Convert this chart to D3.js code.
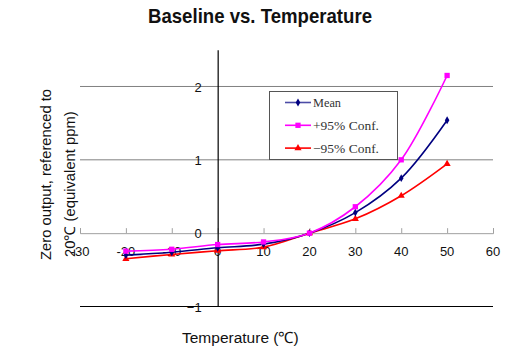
<!DOCTYPE html>
<html><head><meta charset="utf-8">
<script src="https://cdn.jsdelivr.net/npm/d3@7"></script>
<style>body{margin:0;background:#fff}svg{display:block}</style>
</head><body>
<svg id="c" width="532" height="351"></svg>
<script>
const temps = [-20, -10, 0, 10, 20, 30, 40, 50];
const meanVals = [-0.30, -0.26, -0.20, -0.15, 0, 0.28, 0.75, 1.54];
const upperVals = [-0.245, -0.22, -0.155, -0.12, 0, 0.36, 1.0, 2.15];
const lowerVals = [-0.35, -0.29, -0.24, -0.19, 0, 0.195, 0.51, 0.945];
const seriesNames = ["Mean", "+95% Conf.", "\u221295% Conf."];
const xTicks = [-30, -20, -10, 0, 10, 20, 30, 40, 50, 60];
const yTicks = [-1, 0, 1, 2];

const svg = d3.select("#c");
const x = d3.scaleLinear().domain([-30, 60]).range([80, 493]);
const y = d3.scaleLinear().domain([-1, 2.5]).range([306.5, 49.8]);

// title
svg.append("text").attr("x", 260).attr("y", 23).attr("text-anchor", "middle")
  .attr("font-family", "Liberation Sans, Arial, sans-serif").attr("font-weight", "bold")
  .attr("font-size", 21).attr("textLength", 224).attr("lengthAdjust", "spacingAndGlyphs")
  .attr("fill", "#111").text("Baseline vs. Temperature");

// gridlines
svg.append("g").selectAll("line").data(yTicks.filter(d => d > 0)).join("line")
  .attr("x1", x(-30)).attr("x2", x(60)).attr("y1", d => y(d)).attr("y2", d => y(d))
  .attr("stroke", "#808080").attr("stroke-width", 1);
// bottom border line at -1
svg.append("line").attr("x1", x(-30)).attr("x2", x(60)).attr("y1", y(-1)).attr("y2", y(-1))
  .attr("stroke", "#000").attr("stroke-width", 1);

// x axis at y=0
const xAxis = svg.append("g").attr("transform", `translate(0,${y(0)})`)
  .call(d3.axisTop(x).tickValues(xTicks).tickSize(5).tickFormat(""));
xAxis.select(".domain").attr("stroke", "#a0a0a0");
xAxis.selectAll(".tick line").attr("stroke", "#a0a0a0");
svg.append("g").selectAll("text").data(xTicks).join("text")
  .attr("x", d => x(d)).attr("y", y(0) + 23).attr("text-anchor", "middle")
  .attr("font-family", "Liberation Sans, Arial, sans-serif").attr("font-size", 13)
  .attr("fill", "#111").text(d => d);

// y axis at x=0
const yAxis = svg.append("g").attr("transform", `translate(${x(0)},0)`)
  .call(d3.axisLeft(y).tickValues(yTicks).tickSize(0).tickPadding(16).tickFormat(d3.format("d")));
yAxis.select(".domain").attr("stroke", "#000").attr("stroke-width", 1.2);
yAxis.selectAll("text").attr("font-family", "Liberation Sans, Arial, sans-serif")
  .attr("font-size", 13).attr("fill", "#111").attr("dy", "0.35em");

// series
const series = [
  {vals: meanVals, color: "#000080", shape: d3.symbolDiamond, size: 18},
  {vals: upperVals, color: "#FF00FF", shape: d3.symbolSquare, size: 28},
  {vals: lowerVals, color: "#FF0000", shape: d3.symbolTriangle, size: 22}
];
const line = d3.line().x((d, i) => x(temps[i])).y(d => y(d)).curve(d3.curveCatmullRom.alpha(0.5));
const order = [2, 0, 1];
order.forEach(k => {
  const s = series[k];
  svg.append("path").attr("d", line(s.vals)).attr("fill", "none")
    .attr("stroke", s.color).attr("stroke-width", 1.6);
});
order.forEach(k => {
  const s = series[k];
  svg.append("g").selectAll("path").data(s.vals).join("path")
    .attr("transform", (d, i) => `translate(${x(temps[i])},${y(d)})`)
    .attr("d", d3.symbol().type(s.shape).size(s.size)).attr("fill", s.color);
});

// legend
const lg = svg.append("g");
lg.append("rect").attr("x", 269.5).attr("y", 91.5).attr("width", 128).attr("height", 68)
  .attr("fill", "#fff").attr("stroke", "#555").attr("stroke-width", 1);
const legendLens = [28, 66, 66];
series.forEach((s, i) => {
  const ly = 102.5 + i * 22.8;
  lg.append("line").attr("x1", 285).attr("x2", 311).attr("y1", ly).attr("y2", ly)
    .attr("stroke", s.color).attr("stroke-width", 1.6).attr("stroke-opacity", i === 0 ? 0.7 : 1);
  lg.append("path").attr("transform", `translate(298,${ly})`)
    .attr("d", d3.symbol().type(s.shape).size(s.size)).attr("fill", s.color);
  lg.append("text").attr("x", 313).attr("y", ly + 4.5).attr("font-family", "Liberation Serif, serif")
    .attr("font-size", 13).attr("textLength", legendLens[i]).attr("lengthAdjust", "spacingAndGlyphs")
    .attr("fill", "#333").text(seriesNames[i]);
});

// axis titles
svg.append("text").attr("x", 182).attr("y", 343)
  .attr("font-family", "Liberation Sans, Arial, sans-serif").attr("font-size", 15.5)
  .attr("fill", "#111").text("Temperature (\u2103)");
const yl = svg.append("text").attr("transform", "translate(51,260) rotate(-90)")
  .attr("font-family", "Liberation Sans, Arial, sans-serif").attr("font-size", 14.8).attr("fill", "#111");
yl.append("tspan").attr("x", 0).attr("y", 0).text("Zero output, referenced to");
yl.append("tspan").attr("x", 3).attr("y", 24).text("20\u2103 (equivalent ppm)");
</script>
</body></html>
